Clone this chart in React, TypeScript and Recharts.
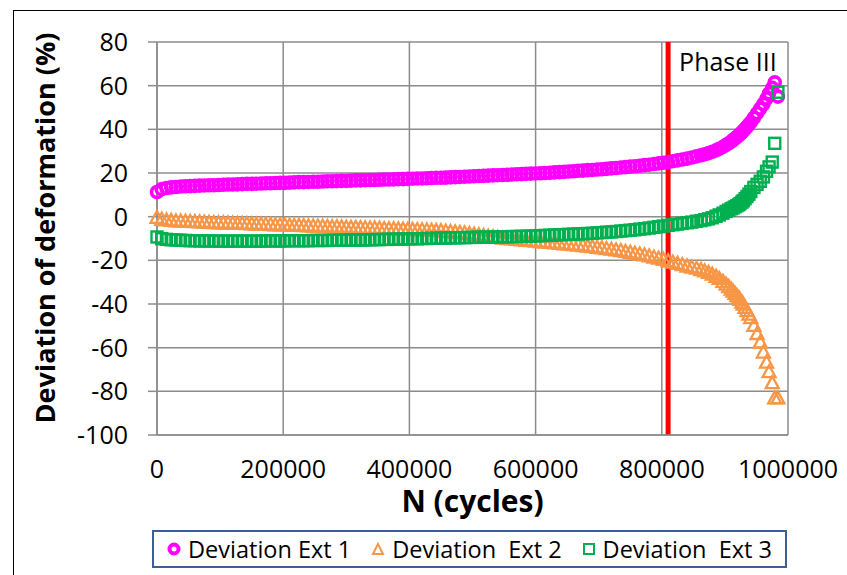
import React from 'react';
import {
  ScatterChart, Scatter, XAxis, YAxis, CartesianGrid, ReferenceLine, Legend, Label,
} from 'recharts';

const cycles = [
  0, 7500, 15000, 22500, 30000, 37500, 45000, 52500, 60000, 67500,
  75000, 82500, 90000, 97500, 105000, 112500, 120000, 127500, 135000, 142500,
  150000, 157500, 165000, 172500, 180000, 187500, 195000, 202500, 210000, 217500,
  225000, 232500, 240000, 247500, 255000, 262500, 270000, 277500, 285000, 292500,
  300000, 307500, 315000, 322500, 330000, 337500, 345000, 352500, 360000, 367500,
  375000, 382500, 390000, 397500, 405000, 412500, 420000, 427500, 435000, 442500,
  450000, 457500, 465000, 472500, 480000, 487500, 495000, 502500, 510000, 517500,
  525000, 532500, 540000, 547500, 555000, 562500, 570000, 577500, 585000, 592500,
  600000, 607500, 615000, 622500, 630000, 637500, 645000, 652500, 660000, 667500,
  675000, 682500, 690000, 697500, 705000, 712500, 720000, 727500, 735000, 742500,
  750000, 757500, 765000, 772500, 780000, 787500, 795000, 802500, 810000, 817500,
  825000, 832500, 840000, 847500, 855000,
  862000, 868000, 874000, 880000, 886000, 891000, 897000, 902000, 906000, 910000,
  913000, 916000, 919000, 922000, 924000, 927000, 929000, 932000, 935000, 938000,
  941000, 946000, 951000, 956000, 961000, 966000, 970000, 975000, 979000, 984000,
];

const ext1 = [
  11.3, 12.6, 13.1, 13.4, 13.6, 13.8, 13.9, 14.0, 14.1, 14.2,
  14.3, 14.4, 14.4, 14.5, 14.6, 14.7, 14.7, 14.8, 14.9, 15.0,
  15.0, 15.1, 15.2, 15.3, 15.3, 15.4, 15.5, 15.5, 15.6, 15.7,
  15.8, 15.8, 15.9, 16.0, 16.0, 16.1, 16.2, 16.2, 16.3, 16.4,
  16.4, 16.5, 16.6, 16.6, 16.7, 16.8, 16.8, 16.9, 17.0, 17.0,
  17.1, 17.2, 17.2, 17.3, 17.4, 17.5, 17.5, 17.6, 17.7, 17.8,
  17.8, 17.9, 18.0, 18.1, 18.2, 18.3, 18.4, 18.5, 18.6, 18.7,
  18.8, 18.9, 19.0, 19.1, 19.2, 19.3, 19.4, 19.5, 19.6, 19.7,
  19.8, 19.9, 20.0, 20.1, 20.3, 20.4, 20.5, 20.7, 20.8, 21.0,
  21.1, 21.3, 21.4, 21.6, 21.7, 21.9, 22.1, 22.3, 22.5, 22.7,
  22.9, 23.1, 23.3, 23.6, 23.8, 24.1, 24.4, 24.7, 25.0, 25.4,
  25.8, 26.2, 26.6, 27.1, 27.6,
  28.1, 28.6, 29.1, 29.7, 30.4, 31.1, 32.0, 32.9, 33.6, 34.4,
  35.1, 35.8, 36.5, 37.2, 37.8, 38.6, 39.3, 40.2, 41.2, 42.2,
  43.3, 45.3, 47.4, 49.5, 51.6, 54.1, 56.5, 59.0, 61.5, 55.0,
];

const ext2 = [
  -0.3, -1.2, -1.5, -1.7, -1.9, -2.0, -2.1, -2.2, -2.3, -2.4,
  -2.5, -2.6, -2.7, -2.8, -2.8, -2.9, -3.0, -3.1, -3.1, -3.2,
  -3.3, -3.4, -3.4, -3.5, -3.6, -3.7, -3.7, -3.8, -3.9, -4.0,
  -4.0, -4.1, -4.2, -4.3, -4.3, -4.4, -4.5, -4.6, -4.6, -4.7,
  -4.8, -4.9, -4.9, -5.0, -5.1, -5.2, -5.2, -5.3, -5.4, -5.5,
  -5.5, -5.6, -5.7, -5.8, -5.8, -5.9, -6.0, -6.1, -6.2, -6.3,
  -6.4, -6.6, -6.8, -7.0, -7.2, -7.4, -7.7, -8.0, -8.3, -8.6,
  -8.9, -9.2, -9.5, -9.8, -10.0, -10.2, -10.4, -10.6, -10.8, -11.0,
  -11.2, -11.4, -11.6, -11.8, -12.0, -12.2, -12.4, -12.6, -12.8, -13.0,
  -13.2, -13.5, -13.7, -14.0, -14.3, -14.6, -14.9, -15.2, -15.5, -15.9,
  -16.3, -16.7, -17.1, -17.5, -18.0, -18.5, -19.0, -19.6, -20.2, -20.8,
  -21.4, -22.0, -22.6, -23.1, -23.6,
  -24.2, -24.8, -25.5, -26.3, -27.3, -28.3, -29.6, -30.9, -32.0, -33.2,
  -34.1, -35.1, -36.1, -37.1, -37.9, -39.1, -40.0, -41.5, -43.0, -44.6,
  -46.2, -49.8, -53.5, -57.4, -62.0, -66.6, -71.0, -76.0, -83.0, -83.0,
];

const ext3 = [
  -9.3, -10.1, -10.4, -10.6, -10.7, -10.8, -10.9, -11.0, -11.0, -11.1,
  -11.1, -11.1, -11.2, -11.2, -11.2, -11.2, -11.2, -11.2, -11.2, -11.2,
  -11.2, -11.2, -11.2, -11.1, -11.1, -11.1, -11.1, -11.1, -11.0, -11.0,
  -11.0, -11.0, -11.0, -10.9, -10.9, -10.9, -10.9, -10.8, -10.8, -10.8,
  -10.8, -10.7, -10.7, -10.7, -10.6, -10.6, -10.5, -10.5, -10.4, -10.4,
  -10.3, -10.3, -10.2, -10.2, -10.1, -10.1, -10.0, -10.0, -9.9, -9.9,
  -9.8, -9.8, -9.7, -9.7, -9.6, -9.6, -9.5, -9.5, -9.4, -9.4,
  -9.4, -9.3, -9.3, -9.2, -9.2, -9.1, -9.1, -9.0, -9.0, -8.9,
  -8.8, -8.7, -8.6, -8.5, -8.4, -8.3, -8.2, -8.1, -8.0, -7.9,
  -7.8, -7.7, -7.6, -7.4, -7.3, -7.1, -7.0, -6.8, -6.6, -6.4,
  -6.2, -6.0, -5.7, -5.5, -5.2, -4.9, -4.6, -4.3, -4.0, -3.7,
  -3.4, -3.1, -2.8, -2.5, -2.1,
  -1.8, -1.4, -1.0, -0.5, 0.2, 0.8, 1.6, 2.4, 3.0, 3.6,
  4.0, 4.5, 5.0, 5.5, 6.0, 6.7, 7.3, 8.2, 9.2, 10.3,
  11.5, 13.4, 14.8, 16.2, 18.2, 20.8, 22.8, 25.0, 33.6, 57.0,
];

const xTicks = [0, 200000, 400000, 600000, 800000, 1000000];
const yTicks = [-100, -80, -60, -40, -20, 0, 20, 40, 60, 80];
const phaseLine = 810000;
const seriesNames = ['Deviation Ext 1', 'Deviation  Ext 2', 'Deviation  Ext 3'];

const data1 = cycles.map((n, i) => ({ n, v: ext1[i] }));
const data2 = cycles.map((n, i) => ({ n, v: ext2[i] }));
const data3 = cycles.map((n, i) => ({ n, v: ext3[i] }));

const MAGENTA = '#FF00FF';
const ORANGE = '#F79646';
const GREEN = '#00B050';
const GRID = '#8C8C8C';
const FONT = "'Open Sans', sans-serif";

const CircleShape = (p: any) => (
  <circle cx={p.cx} cy={p.cy} r={5.5} fill="none" stroke={MAGENTA} strokeWidth={3.6} />
);
const TriangleShape = (p: any) => (
  <polygon
    points={`${p.cx},${p.cy - 6.5} ${p.cx - 6.5},${p.cy + 5.5} ${p.cx + 6.5},${p.cy + 5.5}`}
    fill="none"
    stroke={ORANGE}
    strokeWidth={2.3}
  />
);
const SquareShape = (p: any) => (
  <rect x={p.cx - 5.5} y={p.cy - 5.5} width={11} height={11} fill="none" stroke={GREEN} strokeWidth={2.4} />
);

const legendMarker = (i: number) => {
  if (i === 0)
    return (
      <svg width={14} height={14}>
        <circle cx={7} cy={7} r={4.5} fill="none" stroke={MAGENTA} strokeWidth={4} />
      </svg>
    );
  if (i === 1)
    return (
      <svg width={14} height={14}>
        <polygon points="7,2 2,12 12,12" fill="none" stroke={ORANGE} strokeWidth={2} />
      </svg>
    );
  return (
    <svg width={14} height={14}>
      <rect x={2} y={2} width={10} height={10} fill="none" stroke={GREEN} strokeWidth={2} />
    </svg>
  );
};

const renderLegend = () => (
  <div
    style={{
      boxSizing: 'border-box',
      width: 635,
      height: 38,
      border: '2px solid #3A5F9B',
      display: 'flex',
      alignItems: 'center',
      justifyContent: 'center',
      gap: 20,
      fontFamily: FONT,
      fontSize: 23.5,
      color: '#000',
      whiteSpace: 'pre',
    }}
  >
    {seriesNames.map((name, i) => (
      <div key={name} style={{ display: 'flex', alignItems: 'center' }}>
        {legendMarker(i)}
        <span style={{ marginLeft: 7 }}>{name}</span>
      </div>
    ))}
  </div>
);

export default function App() {
  return (
    <div style={{ position: 'absolute', left: 0, top: 0, width: 847, height: 575, fontFamily: FONT }}>
      <div
        style={{
          position: 'absolute',
          left: 13,
          top: 10,
          width: 834,
          height: 565,
          borderLeft: '1.5px solid #000',
          borderTop: '1.5px solid #000',
          boxSizing: 'border-box',
        }}
      />
      <ScatterChart width={847} height={575} margin={{ top: 42, right: 59, left: 0, bottom: 60 }}>
        <CartesianGrid stroke={GRID} strokeWidth={1.5} />
        <XAxis
          dataKey="n"
          type="number"
          domain={[0, 1000000]}
          ticks={xTicks}
          interval={0}
          tickLine={false}
          tickSize={0}
          tickMargin={25}
          height={80}
          axisLine={{ stroke: GRID, strokeWidth: 1.5 }}
          tick={{ fontSize: 25, fill: '#000', fontFamily: FONT }}
        >
          <Label
            value="N (cycles)"
            position="insideTop"
            offset={56}
            style={{ fontSize: 30, fontWeight: 700, fill: '#000', fontFamily: FONT }}
          />
        </XAxis>
        <YAxis
          dataKey="v"
          type="number"
          domain={[-100, 80]}
          ticks={yTicks}
          interval={0}
          width={157}
          tickSize={9}
          tickMargin={20}
          axisLine={{ stroke: GRID, strokeWidth: 1.5 }}
          tickLine={{ stroke: GRID, strokeWidth: 1.5 }}
          tick={{ fontSize: 25, fill: '#000', fontFamily: FONT }}
        >
          <Label
            content={() => (
              <text
                x={0}
                y={0}
                transform="translate(45,228) rotate(-90)"
                textAnchor="middle"
                dy="0.36em"
                style={{ fontSize: 27, fontWeight: 700, fill: '#000', fontFamily: FONT }}
              >
                Deviation of deformation (%)
              </text>
            )}
          />
        </YAxis>
        <Scatter name={seriesNames[0]} data={data1} shape={CircleShape} isAnimationActive={false} />
        <Scatter name={seriesNames[1]} data={data2} shape={TriangleShape} isAnimationActive={false} />
        <Scatter name={seriesNames[2]} data={data3} shape={SquareShape} isAnimationActive={false} />
        <ReferenceLine
          x={phaseLine}
          stroke="#FF0000"
          strokeWidth={5}
          label={{ value: 'Phase III', position: 'insideTopLeft', offset: 11, fontSize: 25, fill: '#000', fontFamily: FONT }}
        />
        <Legend
          layout="horizontal"
          verticalAlign="middle"
          align="center"
          wrapperStyle={{ position: 'absolute', left: 152, top: 530, width: 635, height: 38 }}
          content={renderLegend}
        />
      </ScatterChart>
    </div>
  );
}
